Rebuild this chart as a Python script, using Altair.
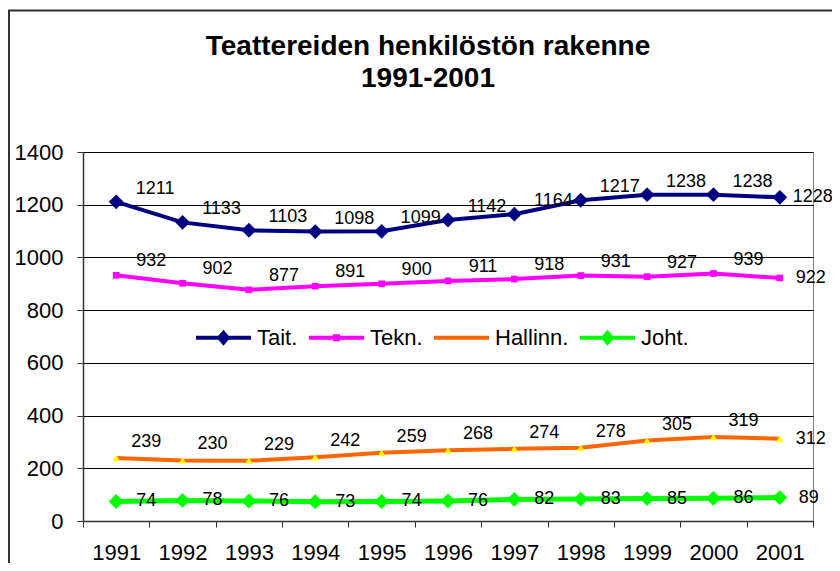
import altair as alt
import pandas as pd

years = ["1991", "1992", "1993", "1994", "1995", "1996", "1997", "1998", "1999", "2000", "2001"]
tait = [1211, 1133, 1103, 1098, 1099, 1142, 1164, 1217, 1238, 1238, 1228]
tekn = [932, 902, 877, 891, 900, 911, 918, 931, 927, 939, 922]
hallinn = [239, 230, 229, 242, 259, 268, 274, 278, 305, 319, 312]
joht = [74, 78, 76, 73, 74, 76, 82, 83, 85, 86, 89]
series_names = ["Tait.", "Tekn.", "Hallinn.", "Joht."]
y_ticks = [0, 200, 400, 600, 800, 1000, 1200, 1400]

colors = ["#000080", "#FF00FF", "#FF6600", "#00FF00"]
FONT = "Liberation Sans"

rows = []
for name, vals in zip(series_names, [tait, tekn, hallinn, joht]):
    for i, (yr, v) in enumerate(zip(years, vals)):
        rows.append({"year": yr, "value": v, "series": name, "last": i == len(years) - 1})
df = pd.DataFrame(rows)

x_enc = alt.X(
    "year:O",
    bandPosition=0.5,
    scale=alt.Scale(type="band", paddingInner=0, paddingOuter=0),
    axis=alt.Axis(
        title=None, labelAngle=0, labelFont=FONT, labelFontSize=22, labelColor="#000",
        tickBand="extent", tickSize=6, tickColor="#333", domainColor="#333", domainWidth=1.5,
        labelPadding=15, grid=False,
    ),
)
y_enc = alt.Y(
    "value:Q",
    scale=alt.Scale(domain=[0, 1400], nice=False),
    axis=alt.Axis(
        title=None, values=y_ticks, format="d", labelFont=FONT, labelFontSize=22, labelColor="#000",
        tickSize=6, tickColor="#333", domainColor="#333", domainWidth=1.5, labelPadding=14,
        grid=True, gridColor="#000", gridWidth=1,
    ),
)

marker_styles = {
    "Tait.": dict(shape="diamond", size=220, fill="#000080"),
    "Tekn.": dict(shape="square", size=45, fill="#FF00FF"),
    "Hallinn.": dict(shape="triangle-up", size=55, fill="#FFFF00"),
    "Joht.": dict(shape="diamond", size=220, fill="#00FF00"),
}
label_offsets = {
    "Tait.": (39, -13),
    "Tekn.": (35, -14),
    "Hallinn.": (30, -16),
    "Joht.": (30, 0),
}
last_offsets = {"Tait.": (33, 0), "Tekn.": (31, 0), "Hallinn.": (31, 0), "Joht.": (29, 0)}
line_widths = {"Tait.": 4, "Tekn.": 4, "Hallinn.": 4, "Joht.": 5}

base = alt.Chart(df)

layers = []
frame = alt.Chart(pd.DataFrame({"a": [0]})).mark_rect(
    fillOpacity=0, stroke="#333333", strokeWidth=2
).encode(x=alt.value(-74), x2=alt.value(900), y=alt.value(-141.5), y2=alt.value(700))
layers.append(frame)

for name, col in zip(series_names, colors):
    layers.append(
        base.transform_filter(alt.datum.series == name)
        .mark_line(color=col, strokeWidth=line_widths[name])
        .encode(x=x_enc, y=y_enc)
    )
for name in series_names:
    st = marker_styles[name]
    layers.append(
        base.transform_filter(alt.datum.series == name)
        .mark_point(filled=True, opacity=1, shape=st["shape"], size=st["size"],
                    fill=st["fill"], strokeWidth=0)
        .encode(x=x_enc, y=y_enc)
    )
for name in series_names:
    dx, dy = label_offsets[name]
    layers.append(
        base.transform_filter((alt.datum.series == name) & (alt.datum.last == False))
        .mark_text(font=FONT, fontSize=18, color="#000", dx=dx, dy=dy, align="center", baseline="middle")
        .encode(x=x_enc, y=y_enc, text="value:Q")
    )
    ldx, ldy = last_offsets[name]
    layers.append(
        base.transform_filter((alt.datum.series == name) & (alt.datum.last == True))
        .mark_text(font=FONT, fontSize=18, color="#000", dx=ldx, dy=ldy, align="center", baseline="middle")
        .encode(x=x_enc, y=y_enc, text="value:Q")
    )

bar = "M-1,-0.075H1V0.075H-1Z"
legend_paths = [
    bar + "M-0.25,0L0,-0.29L0.25,0L0,0.29Z",
    bar + "M-0.13,-0.13H0.13V0.13H-0.13Z",
    bar,
    bar + "M-0.25,0L0,-0.29L0.25,0L0,0.29Z",
]
leg = alt.Legend(
    title=None, orient="none", legendX=113, legendY=158, direction="horizontal", columns=4,
    labelFont=FONT, labelFontSize=22, labelColor="#000", symbolSize=3025, symbolStrokeWidth=0,
    labelOffset=6, columnPadding=11, padding=0,
)
legend_layer = (
    base.transform_filter("false")
    .mark_point(filled=True, opacity=1)
    .encode(
        x=x_enc, y=y_enc,
        color=alt.Color("series:N", scale=alt.Scale(domain=series_names, range=colors), legend=leg),
        shape=alt.Shape("series:N", scale=alt.Scale(domain=series_names, range=legend_paths), legend=leg),
    )
)
layers.append(legend_layer)

chart = (
    alt.layer(*layers)
    .properties(
        width=730,
        height=369,
        autosize=alt.AutoSizeParams(type="none"),
        padding={"left": 75, "top": 144, "right": 19, "bottom": 42},
        title=alt.Title(
            text=["Teattereiden henkilöstön rakenne", "1991-2001"],
            font=FONT, fontSize=28, fontWeight="bold", color="#000",
            anchor="middle", dx=-20, offset=-83, lineHeight=32,
        ),
        background="white",
    )
    .configure_view(stroke="#808080", strokeWidth=1)
)

chart.save("out.html", embed_options={"renderer": "svg", "actions": False})
